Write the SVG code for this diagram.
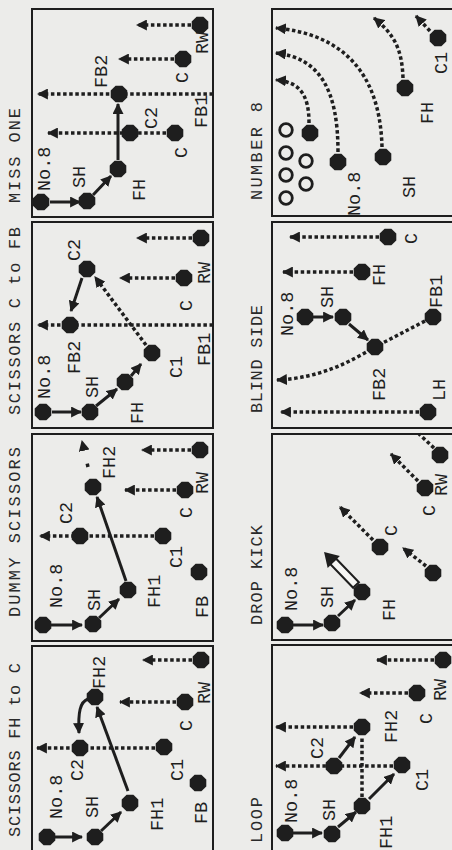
<svg xmlns="http://www.w3.org/2000/svg" xmlns:xlink="http://www.w3.org/1999/xlink" width="452" height="850" viewBox="0 0 452 850">
<style>
.bg{fill:#ececea}
.frame{fill:none;stroke:#1e1e1e;stroke-width:2}
.title{font-family:"Liberation Mono","DejaVu Sans Mono",monospace;font-size:17px;fill:#2a2a2a}
.lb{font-family:"Liberation Mono","DejaVu Sans Mono",monospace;font-size:18.5px;fill:#1e1e1e}
.node use{fill:#1e1e1e}
.dot{fill:none;stroke:#1e1e1e;stroke-width:3.5;stroke-dasharray:3.5 2.6;marker-end:url(#ah)}
.dotn{fill:none;stroke:#1e1e1e;stroke-width:3.5;stroke-dasharray:3.5 2.6}
.sol{fill:none;stroke:#1e1e1e;stroke-width:3;marker-end:url(#ah)}
.open{fill:none;stroke:#1e1e1e;stroke-width:2.8}
</style>
<defs>
<marker id="ah" viewBox="0 0 10 10" refX="9" refY="5" markerWidth="11" markerHeight="11" markerUnits="userSpaceOnUse" orient="auto">
<path d="M0,0 L10,5 L0,10 z" fill="#1e1e1e"/>
</marker>
<polygon id="oct" points="8.3,3.4 3.4,8.3 -3.4,8.3 -8.3,3.4 -8.3,-3.4 -3.4,-8.3 3.4,-8.3 8.3,-3.4"/>
</defs>
<rect class="bg" x="0" y="0" width="452" height="850"/>

<!-- ===== MISS ONE ===== -->
<g id="miss-one">
<rect class="frame" x="32" y="9" width="181" height="208"/>
<text class="title" x="20" y="203" transform="rotate(-90 20 203)" textLength="95" lengthAdjust="spacing">MISS ONE</text>
<g id="miss-one-connectors">
<path class="sol" d="M50,202 H80"/>
<path class="sol" d="M93,195 L111,176"/>
<path class="sol" d="M118,160 V104"/>
<path class="dot" d="M191,25 H137"/>
<path class="dot" d="M174,59 H119"/>
<path class="dot" d="M213,94 H38"/>
<path class="dot" d="M166,133 H48"/>
</g>
<g id="m1-no8" class="node"><use href="#oct" x="41" y="202"/><text class="lb" x="50" y="191" transform="rotate(-90 50 191)">No.8</text></g>
<g id="m1-sh" class="node"><use href="#oct" x="87" y="201"/><text class="lb" x="85" y="188" transform="rotate(-90 85 188)">SH</text></g>
<g id="m1-fh" class="node"><use href="#oct" x="118" y="169"/><text class="lb" x="145" y="201" transform="rotate(-90 145 201)">FH</text></g>
<g id="m1-fb2" class="node"><use href="#oct" x="119" y="94"/><text class="lb" x="107" y="88" transform="rotate(-90 107 88)">FB2</text></g>
<g id="m1-c2" class="node"><use href="#oct" x="130" y="133"/><text class="lb" x="157" y="129" transform="rotate(-90 157 129)">C2</text></g>
<g id="m1-c" class="node"><use href="#oct" x="175" y="133"/><text class="lb" x="187" y="158" transform="rotate(-90 187 158)">C</text></g>
<g id="m1-c-outer" class="node"><use href="#oct" x="183" y="59"/><text class="lb" x="188" y="83" transform="rotate(-90 188 83)">C</text></g>
<g id="m1-rw" class="node"><use href="#oct" x="200" y="25"/><text class="lb" x="208" y="54" transform="rotate(-90 208 54)">RW</text></g>
<g id="m1-fb1" class="node"><text class="lb" x="207" y="128" transform="rotate(-90 207 128)">FB1</text></g>
</g>

<!-- ===== SCISSORS C to FB ===== -->
<g id="scissors-c-fb">
<rect class="frame" x="32" y="222" width="181" height="206"/>
<text class="title" x="20" y="415" transform="rotate(-90 20 415)" textLength="188" lengthAdjust="spacing">SCISSORS C to FB</text>
<g id="scissors-c-fb-connectors">
<path class="sol" d="M52,412 H81"/>
<path class="sol" d="M96,406 L117,389"/>
<path class="sol" d="M131,376 L141,364"/>
<path class="dot" d="M146,345 L95,277"/>
<path class="sol" d="M82,278 L71,311"/>
<path class="dot" d="M213,325 H38"/>
<path class="dot" d="M175,278 H120"/>
<path class="dot" d="M192,238 H137"/>
</g>
<g id="s2-no8" class="node"><use href="#oct" x="43" y="412"/><text class="lb" x="50" y="399" transform="rotate(-90 50 399)">No.8</text></g>
<g id="s2-sh" class="node"><use href="#oct" x="90" y="412"/><text class="lb" x="98" y="398" transform="rotate(-90 98 398)">SH</text></g>
<g id="s2-fh" class="node"><use href="#oct" x="125" y="382"/><text class="lb" x="143" y="424" transform="rotate(-90 143 424)">FH</text></g>
<g id="s2-c1" class="node"><use href="#oct" x="152" y="353"/><text class="lb" x="182" y="378" transform="rotate(-90 182 378)">C1</text></g>
<g id="s2-c2" class="node"><use href="#oct" x="87" y="269"/><text class="lb" x="80" y="261" transform="rotate(-90 80 261)">C2</text></g>
<g id="s2-fb2" class="node"><use href="#oct" x="70" y="325"/><text class="lb" x="80" y="374" transform="rotate(-90 80 374)">FB2</text></g>
<g id="s2-c" class="node"><use href="#oct" x="184" y="278"/><text class="lb" x="192" y="311" transform="rotate(-90 192 311)">C</text></g>
<g id="s2-rw" class="node"><use href="#oct" x="201" y="238"/><text class="lb" x="210" y="284" transform="rotate(-90 210 284)">RW</text></g>
<g id="s2-fb1" class="node"><text class="lb" x="210" y="366" transform="rotate(-90 210 366)">FB1</text></g>
</g>

<!-- ===== DUMMY SCISSORS ===== -->
<g id="dummy-scissors">
<rect class="frame" x="32" y="434" width="181" height="207"/>
<text class="title" x="20" y="617" transform="rotate(-90 20 617)" textLength="170" lengthAdjust="spacing">DUMMY SCISSORS</text>
<g id="dummy-scissors-connectors">
<path class="sol" d="M51,625 H82"/>
<path class="sol" d="M99,618 L119,599"/>
<path class="sol" d="M126,581 L97,497"/>
<path class="dot" style="stroke-dasharray:3.5 40" d="M88,467 L82,441"/>
<path class="dot" d="M154,536 H40"/>
<path class="dot" d="M176,490 H125"/>
<path class="dot" d="M191,450 H142"/>
</g>
<g id="d3-no8" class="node"><use href="#oct" x="43" y="625"/><text class="lb" x="62" y="608" transform="rotate(-90 62 608)">No.8</text></g>
<g id="d3-sh" class="node"><use href="#oct" x="93" y="624"/><text class="lb" x="100" y="611" transform="rotate(-90 100 611)">SH</text></g>
<g id="d3-fh1" class="node"><use href="#oct" x="128" y="590"/><text class="lb" x="160" y="608" transform="rotate(-90 160 608)">FH1</text></g>
<g id="d3-fh2" class="node"><use href="#oct" x="93" y="487"/><text class="lb" x="115" y="479" transform="rotate(-90 115 479)">FH2</text></g>
<g id="d3-c2" class="node"><use href="#oct" x="80" y="536"/><text class="lb" x="72" y="524" transform="rotate(-90 72 524)">C2</text></g>
<g id="d3-c1" class="node"><use href="#oct" x="163" y="536"/><text class="lb" x="182" y="568" transform="rotate(-90 182 568)">C1</text></g>
<g id="d3-c" class="node"><use href="#oct" x="185" y="490"/><text class="lb" x="192" y="518" transform="rotate(-90 192 518)">C</text></g>
<g id="d3-rw" class="node"><use href="#oct" x="200" y="450"/><text class="lb" x="208" y="494" transform="rotate(-90 208 494)">RW</text></g>
<g id="d3-fb" class="node"><use href="#oct" x="199" y="572"/><text class="lb" x="208" y="618" transform="rotate(-90 208 618)">FB</text></g>
</g>

<!-- ===== SCISSORS FH to C ===== -->
<g id="scissors-fh-c">
<rect class="frame" x="32" y="646" width="181" height="212"/>
<text class="title" x="20" y="837" transform="rotate(-90 20 837)" textLength="174" lengthAdjust="spacing">SCISSORS FH to C</text>
<g id="scissors-fh-c-connectors">
<path class="sol" d="M55,837 H82"/>
<path class="sol" d="M101,831 L121,812"/>
<path class="sol" d="M128,791 L97,707"/>
<path class="sol" d="M88,699 C80,702 78,712 79,733"/>
<path class="dot" d="M155,748 H37"/>
<path class="dot" d="M176,702 H120"/>
<path class="dot" d="M192,660 H143"/>
</g>
<g id="s4-no8" class="node"><use href="#oct" x="47" y="837"/><text class="lb" x="62" y="819" transform="rotate(-90 62 819)">No.8</text></g>
<g id="s4-sh" class="node"><use href="#oct" x="95" y="837"/><text class="lb" x="98" y="818" transform="rotate(-90 98 818)">SH</text></g>
<g id="s4-fh1" class="node"><use href="#oct" x="130" y="803"/><text class="lb" x="163" y="831" transform="rotate(-90 163 831)">FH1</text></g>
<g id="s4-fh2" class="node"><use href="#oct" x="95" y="697"/><text class="lb" x="105" y="689" transform="rotate(-90 105 689)">FH2</text></g>
<g id="s4-c2" class="node"><use href="#oct" x="80" y="748"/><text class="lb" x="83" y="781" transform="rotate(-90 83 781)">C2</text></g>
<g id="s4-c1" class="node"><use href="#oct" x="164" y="747"/><text class="lb" x="183" y="781" transform="rotate(-90 183 781)">C1</text></g>
<g id="s4-c" class="node"><use href="#oct" x="185" y="702"/><text class="lb" x="192" y="731" transform="rotate(-90 192 731)">C</text></g>
<g id="s4-rw" class="node"><use href="#oct" x="201" y="660"/><text class="lb" x="210" y="704" transform="rotate(-90 210 704)">RW</text></g>
<g id="s4-fb" class="node"><use href="#oct" x="198" y="783"/><text class="lb" x="207" y="824" transform="rotate(-90 207 824)">FB</text></g>
</g>

<!-- ===== NUMBER 8 ===== -->
<g id="number-8">
<rect class="frame" x="272" y="9" width="190" height="207"/>
<text class="title" x="262" y="200" transform="rotate(-90 262 200)" textLength="98" lengthAdjust="spacing">NUMBER 8</text>
<g id="number-8-connectors">
<path class="dot" d="M309,123 C309,95 300,82 276,80"/>
<path class="dot" d="M338,152 C338,90 320,58 276,53"/>
<path class="dot" d="M382,147 C380,70 340,34 276,28"/>
<path class="dot" d="M403,78 C402,50 395,35 374,18"/>
<path class="dot" d="M430,31 L416,16"/>
</g>
<g id="n5-forwards">
<circle class="open" cx="286" cy="130" r="6.3"/>
<circle class="open" cx="286" cy="153" r="6.3"/>
<circle class="open" cx="286" cy="175" r="6.3"/>
<circle class="open" cx="286" cy="198" r="6.3"/>
<circle class="open" cx="306" cy="161" r="6.3"/>
<circle class="open" cx="306" cy="184" r="6.3"/>
</g>
<g id="n5-flank" class="node"><use href="#oct" x="310" y="133"/></g>
<g id="n5-no8" class="node"><use href="#oct" x="338" y="162"/><text class="lb" x="360" y="216" transform="rotate(-90 360 216)">No.8</text></g>
<g id="n5-sh" class="node"><use href="#oct" x="383" y="157"/><text class="lb" x="415" y="198" transform="rotate(-90 415 198)">SH</text></g>
<g id="n5-fh" class="node"><use href="#oct" x="405" y="88"/><text class="lb" x="433" y="124" transform="rotate(-90 433 124)">FH</text></g>
<g id="n5-c1" class="node"><use href="#oct" x="438" y="38"/><text class="lb" x="447" y="74" transform="rotate(-90 447 74)">C1</text></g>
</g>

<!-- ===== BLIND SIDE ===== -->
<g id="blind-side">
<rect class="frame" x="272" y="222" width="190" height="206"/>
<text class="title" x="262" y="413" transform="rotate(-90 262 413)" textLength="108" lengthAdjust="spacing">BLIND SIDE</text>
<g id="blind-side-connectors">
<path class="sol" d="M313,317 H333"/>
<path class="sol" d="M349,324 L368,340"/>
<path class="dot" d="M425,321 L375,347 C350,362 320,378 277,380"/>
<path class="dot" d="M419,412 H281"/>
<path class="dot" d="M353,272 H283"/>
<path class="dot" d="M379,237 H290"/>
</g>
<g id="b6-no8" class="node"><use href="#oct" x="305" y="317"/><text class="lb" x="293" y="336" transform="rotate(-90 293 336)">No.8</text></g>
<g id="b6-sh" class="node"><use href="#oct" x="343" y="317"/><text class="lb" x="333" y="308" transform="rotate(-90 333 308)">SH</text></g>
<g id="b6-fb2" class="node"><use href="#oct" x="375" y="347"/><text class="lb" x="385" y="401" transform="rotate(-90 385 401)">FB2</text></g>
<g id="b6-fb1" class="node"><use href="#oct" x="433" y="317"/><text class="lb" x="442" y="308" transform="rotate(-90 442 308)">FB1</text></g>
<g id="b6-lh" class="node"><use href="#oct" x="428" y="412"/><text class="lb" x="445" y="401" transform="rotate(-90 445 401)">LH</text></g>
<g id="b6-fh" class="node"><use href="#oct" x="362" y="272"/><text class="lb" x="385" y="286" transform="rotate(-90 385 286)">FH</text></g>
<g id="b6-c" class="node"><use href="#oct" x="388" y="237"/><text class="lb" x="417" y="244" transform="rotate(-90 417 244)">C</text></g>
</g>

<!-- ===== DROP KICK ===== -->
<g id="drop-kick">
<rect class="frame" x="272" y="434" width="190" height="206"/>
<text class="title" x="262" y="625" transform="rotate(-90 262 625)" textLength="100" lengthAdjust="spacing">DROP KICK</text>
<g id="drop-kick-connectors">
<path class="sol" d="M293,625 H323"/>
<path class="sol" d="M338,616 L355,600"/>
<g transform="translate(356,585) rotate(-134)">
<rect x="0" y="-4" width="33" height="8" fill="#f6f6f4" stroke="#1e1e1e" stroke-width="2"/>
<polygon points="32,-8.5 46,0 32,8.5" fill="#1e1e1e"/>
</g>
<path class="dot" d="M373,540 L340,507"/>
<path class="dot" d="M418,481 L391,454"/>
<path class="dotn" d="M434,448 L419,434"/>
<path class="dot" d="M426,566 L403,548"/>
</g>
<g id="k7-no8" class="node"><use href="#oct" x="285" y="625"/><text class="lb" x="297" y="611" transform="rotate(-90 297 611)">No.8</text></g>
<g id="k7-sh" class="node"><use href="#oct" x="332" y="623"/><text class="lb" x="333" y="608" transform="rotate(-90 333 608)">SH</text></g>
<g id="k7-fh" class="node"><use href="#oct" x="362" y="592"/><text class="lb" x="395" y="621" transform="rotate(-90 395 621)">FH</text></g>
<g id="k7-c-inner" class="node"><use href="#oct" x="380" y="547"/><text class="lb" x="397" y="536" transform="rotate(-90 397 536)">C</text></g>
<g id="k7-c-outer" class="node"><use href="#oct" x="425" y="488"/><text class="lb" x="435" y="516" transform="rotate(-90 435 516)">C</text></g>
<g id="k7-rw" class="node"><use href="#oct" x="440" y="455"/><text class="lb" x="447" y="496" transform="rotate(-90 447 496)">RW</text></g>
<g id="k7-back" class="node"><use href="#oct" x="433" y="573"/></g>
</g>

<!-- ===== LOOP ===== -->
<g id="loop">
<rect class="frame" x="272" y="645" width="190" height="213"/>
<text class="title" x="262" y="843" transform="rotate(-90 262 843)" textLength="46" lengthAdjust="spacing">LOOP</text>
<g id="loop-connectors">
<path class="sol" d="M293,833 H322"/>
<path class="sol" d="M338,827 L356,812"/>
<path class="sol" d="M369,799 L394,774"/>
<path class="sol" d="M339,758 L355,737"/>
<path class="dotn" d="M362,797 V736"/>
<path class="dot" d="M393,766 H276"/>
<path class="dot" d="M353,727 H276"/>
<path class="dot" d="M408,693 H360"/>
<path class="dot" d="M434,660 H377"/>
</g>
<g id="l8-no8" class="node"><use href="#oct" x="285" y="833"/><text class="lb" x="297" y="823" transform="rotate(-90 297 823)">No.8</text></g>
<g id="l8-sh" class="node"><use href="#oct" x="332" y="834"/><text class="lb" x="335" y="821" transform="rotate(-90 335 821)">SH</text></g>
<g id="l8-fh1" class="node"><use href="#oct" x="362" y="806"/><text class="lb" x="392" y="849" transform="rotate(-90 392 849)">FH1</text></g>
<g id="l8-c1" class="node"><use href="#oct" x="402" y="765"/><text class="lb" x="428" y="791" transform="rotate(-90 428 791)">C1</text></g>
<g id="l8-c2" class="node"><use href="#oct" x="334" y="766"/><text class="lb" x="323" y="759" transform="rotate(-90 323 759)">C2</text></g>
<g id="l8-fh2" class="node"><use href="#oct" x="362" y="727"/><text class="lb" x="397" y="743" transform="rotate(-90 397 743)">FH2</text></g>
<g id="l8-c" class="node"><use href="#oct" x="417" y="693"/><text class="lb" x="432" y="724" transform="rotate(-90 432 724)">C</text></g>
<g id="l8-rw" class="node"><use href="#oct" x="443" y="660"/><text class="lb" x="446" y="701" transform="rotate(-90 446 701)">RW</text></g>
</g>
</svg>
